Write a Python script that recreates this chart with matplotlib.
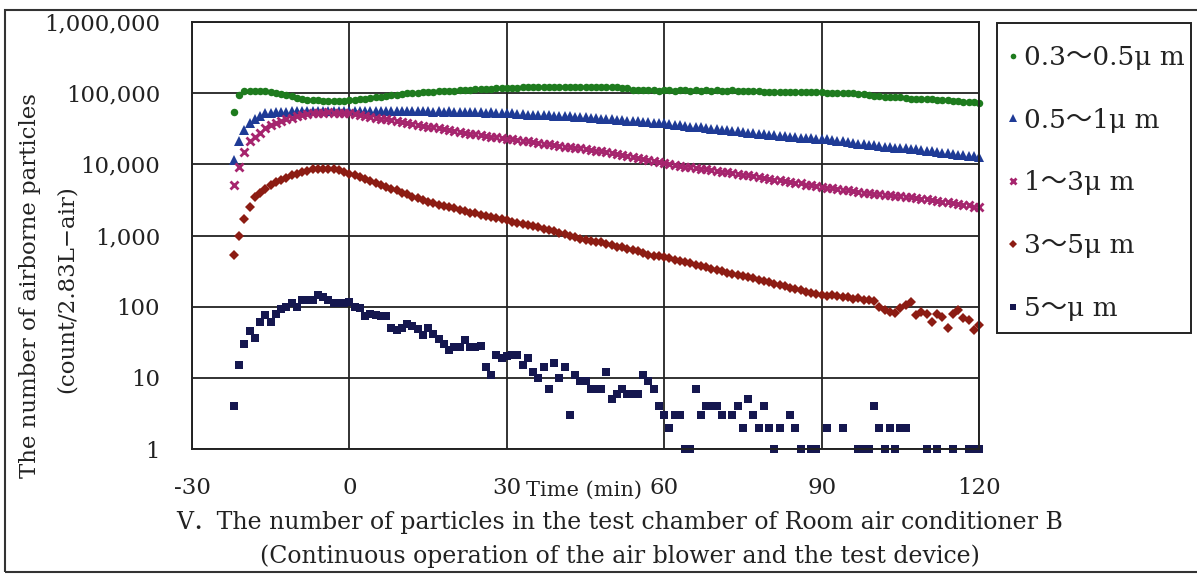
import numpy as np
import matplotlib
matplotlib.use("Agg")
import matplotlib.pyplot as plt
from matplotlib.patches import Rectangle
from matplotlib.ticker import FixedLocator, FixedFormatter

nan = np.nan
time_min = list(range(-22, 121))

pm_03_05 = [
    54000, 94000, 106000, 108000, 109000, 108000, 107000, 105000, 102000, 98000,
    94000, 90000, 86000, 83000, 81000, 80000, 79000, 78000, 77000, 77000,
    77000, 78000, 79000, 80000, 82000, 84000, 85000, 87000, 88000, 91000,
    93000, 95000, 97000, 99000, 100000, 102000, 103000, 104000, 105000, 106000,
    107000, 108000, 109000, 110000, 111000, 112000, 113000, 114000, 115000, 116000,
    117000, 118000, 118000, 119000, 120000, 121000, 122000, 122000, 123000, 123000,
    122000, 123000, 124000, 123000, 122000, 123000, 123000, 122000, 123000, 122000,
    122000, 121000, 122000, 121000, 120000, 118000, 112000, 110000, 111000, 110000,
    110000, 109000, 110000, 110000, 109000, 110000, 110000, 109000, 110000, 109000,
    110000, 109000, 110000, 109000, 109000, 110000, 109000, 108000, 109000, 108000,
    106000, 105000, 105000, 104000, 105000, 105000, 104000, 105000, 104000, 104000,
    104000, 103000, 103000, 100000, 100000, 99000, 100000, 99000, 99000, 98000,
    96000, 93000, 90000, 90000, 89000, 89000, 88000, 88000, 85000, 84000,
    84000, 83000, 83000, 82000, 80000, 80000, 79000, 78000, 77000, 76000,
    75000, 74000, 72000,
]

pm_05_1 = [
    11500, 21000, 30000, 38000, 44000, 48000, 52000, 53000, 54000, 55000,
    55000, 56000, 56000, 56000, 57000, 56000, 57000, 57000, 56000, 57000,
    56000, 57000, 56000, 57000, 56000, 57000, 56000, 57000, 57000, 56000,
    57000, 56000, 57000, 56000, 56000, 57000, 56000, 56000, 55000, 56000,
    55000, 56000, 55000, 55000, 54000, 55000, 54000, 54000, 53000, 54000,
    53000, 52000, 52000, 52000, 51000, 51000, 50000, 50000, 49500, 49000,
    49000, 48500, 48000, 48000, 47500, 47000, 47000, 46000, 45500, 45000,
    44000, 43500, 43000, 42500, 42000, 41000, 40500, 40000, 39500, 39000,
    38500, 38000, 37500, 37000, 36000, 35500, 35000, 34000, 33500, 33000,
    32000, 31500, 31000, 30500, 30000, 29500, 29000, 28600, 28000, 27500,
    27000, 26500, 26000, 25500, 25000, 24800, 24500, 24000, 23800, 23500,
    23200, 23000, 23000, 22500, 22000, 21500, 21000, 20500, 20000, 19500,
    19200, 18800, 18500, 18000, 17800, 17500, 17200, 17000, 16800, 16600,
    16200, 15900, 15600, 15300, 15000, 14600, 14300, 14000, 13700, 13400,
    13100, 12900, 12700,
]

pm_1_3 = [
    5100, 9100, 15000, 21000, 24500, 28000, 32000, 35500, 38000, 40000,
    43000, 45000, 48000, 49500, 51000, 52000, 53000, 53000, 53500, 53000,
    53000, 52500, 52000, 50500, 49000, 48000, 46500, 45500, 44000, 43000,
    41500, 40500, 39500, 38000, 37000, 36000, 35000, 34000, 33000, 32000,
    31000, 30500, 29500, 28500, 28000, 27000, 26500, 25500, 25000, 24500,
    24000, 23500, 23000, 22500, 22000, 21500, 21000, 20500, 20000, 19500,
    19000, 18600, 18200, 17800, 17400, 17000, 16700, 16300, 16000, 15600,
    15200, 14800, 14400, 14000, 13600, 13200, 12800, 12400, 12000, 11600,
    11200, 10800, 10400, 10100, 9800, 9600, 9300, 9100, 8900, 8700,
    8500, 8300, 8100, 7900, 7700, 7500, 7300, 7100, 7000, 6800,
    6600, 6500, 6300, 6100, 6000, 5800, 5700, 5500, 5400, 5200,
    5100, 4900, 4800, 4700, 4600, 4500, 4400, 4300, 4200, 4100,
    4000, 3950, 3850, 3800, 3700, 3650, 3600, 3550, 3500, 3450,
    3400, 3300, 3250, 3150, 3100, 3000, 2950, 2850, 2800, 2700,
    2650, 2550, 2500,
]

pm_3_5 = [
    530, 980, 1700, 2500, 3500, 4000, 4500, 5100, 5600, 6000,
    6500, 7000, 7400, 7800, 8100, 8500, 8600, 8500, 8600, 8500,
    8300, 7900, 7400, 7000, 6600, 6200, 5900, 5500, 5100, 4800,
    4500, 4300, 4000, 3800, 3500, 3400, 3200, 3000, 2900, 2700,
    2600, 2500, 2400, 2300, 2200, 2100, 2050, 1950, 1850, 1800,
    1750, 1700, 1650, 1550, 1500, 1450, 1400, 1350, 1300, 1250,
    1200, 1150, 1100, 1050, 1000, 950, 900, 870, 840, 820,
    800, 760, 740, 700, 680, 650, 620, 600, 560, 540,
    520, 510, 500, 480, 460, 440, 420, 410, 390, 370,
    360, 340, 330, 320, 300, 290, 280, 270, 260, 250,
    240, 230, 220, 210, 200, 195, 185, 178, 170, 160,
    155, 150, 146, 140, 148, 142, 138, 135, 130, 132,
    125, 124, 120, 100, 90, 85, 81, 95, 105, 117,
    76, 85, 80, 61, 80, 72, 50, 78, 90, 70,
    65, 47, 56,
]

pm_5_up = [
    4, 15, 30, 45, 36, 60, 76, 60, 79, 92,
    100, 111, 100, 126, 126, 126, 145, 135, 126, 111,
    111, 111, 117, 100, 95, 74, 80, 76, 74, 74,
    50, 47, 50, 58, 54, 48, 40, 50, 41, 35,
    30, 25, 27, 27, 34, 27, 27, 28, 14, 11,
    21, 19, 20, 21, 21, 15, 19, 12, 10, 14,
    7, 16, 10, 14, 3, 11, 9, 9, 7, 7,
    7, 12, 5, 6, 7, 6, 6, 6, 11, 9,
    7, 4, 3, 2, 3, 3, 1, 1, 7, 3,
    4, 4, 4, 3, nan, 3, 4, 2, 5, 3,
    2, 4, 2, 1, 2, nan, 3, 2, 1, nan,
    1, 1, nan, 2, nan, nan, 2, nan, nan, 1,
    1, 1, 4, 2, 1, 2, 1, 2, 2, nan,
    nan, nan, 1, nan, 1, nan, nan, 1, nan, nan,
    1, 1, 1,
]

series_labels = ["0.3\uff5e0.5\u03bc m", "0.5\uff5e1\u03bc m", "1\uff5e3\u03bc m",
                 "3\uff5e5\u03bc m", "5\uff5e\u03bc m"]
x_ticks = [-30, 0, 30, 60, 90, 120]
y_ticks = [1, 10, 100, 1000, 10000, 100000, 1000000]
y_ticklabels = ["1", "10", "100", "1,000", "10,000", "100,000", "1,000,000"]

FONT = ["DejaVu Serif", "Noto Sans CJK JP"]
plt.rcParams["font.family"] = FONT

W, H = 1197, 576
fig = plt.figure(figsize=(W / 100, H / 100), dpi=100)
ax = fig.add_axes([192 / W, 1 - 449 / H, (979 - 192) / W, (449 - 22) / H])

styles = [
    dict(marker="o", color="#1E7B1E", ms=5.4, mew=0),
    dict(marker="^", color="#1F3B96", ms=6.8, mew=0),
    dict(marker="x", color="#A6256E", ms=6.0, mew=2.0),
    dict(marker="D", color="#8C1C13", ms=5.4, mew=0),
    dict(marker="s", color="#15174F", ms=5.4, mew=0),
]
data = [pm_03_05, pm_05_1, pm_1_3, pm_3_5, pm_5_up]
handles = []
for vals, lab, st in zip(data, series_labels, styles):
    h, = ax.plot(time_min, vals, linestyle="none", label=lab, clip_on=False,
                 marker=st["marker"], color=st["color"], markersize=st["ms"],
                 markeredgewidth=st["mew"])
    handles.append(h)

ax.set_yscale("log")
ax.set_xlim(-30, 120)
ax.set_ylim(1, 1e6)
ax.xaxis.set_major_locator(FixedLocator(x_ticks))
ax.yaxis.set_major_locator(FixedLocator(y_ticks))
ax.yaxis.set_major_formatter(FixedFormatter(y_ticklabels))
ax.yaxis.set_minor_locator(FixedLocator([]))
ax.set_xticklabels([str(v) for v in x_ticks])
ax.tick_params(axis="both", length=0, labelsize=16.5, colors="#222222")
ax.tick_params(axis="y", pad=23)
ax.tick_params(axis="x", pad=20)
ax.grid(True, color="#222222", linewidth=1.3)
ax.set_axisbelow(True)
for s in ax.spines.values():
    s.set_color("#222222")
    s.set_linewidth(1.4)

# legend entries (frame drawn separately)
leg = fig.legend(handles=handles, loc="upper left",
                 bbox_to_anchor=(1008 / W, 1 - 45 / H),
                 borderaxespad=0, borderpad=0, frameon=False,
                 fontsize=19, labelspacing=1.43, handlelength=0.35,
                 handletextpad=0.25, markerscale=0.75)
for t in leg.get_texts():
    t.set_color("#222222")
fig.add_artist(Rectangle((997 / W, 1 - 333 / H), (1191 - 997) / W, (333 - 23) / H,
                         transform=fig.transFigure, fill=False,
                         edgecolor="#222222", linewidth=1.4))

fig.text(30 / W, 1 - 286 / H, "The number of airborne particles", rotation=90,
         ha="center", va="center", fontsize=16.5, color="#222222")
fig.text(67 / W, 1 - 289 / H, "(count/2.83L\u2212air)", rotation=90,
         ha="center", va="center", fontsize=16.5, color="#222222")
fig.text(584 / W, 1 - 490 / H, "Time (min)", ha="center", va="center",
         fontsize=15, color="#222222")
fig.text(620 / W, 1 - 522 / H,
         "V\uff0eThe number of particles in the test chamber of Room air conditioner B",
         ha="center", va="center", fontsize=17, color="#222222")
fig.text(620 / W, 1 - 556 / H,
         "(Continuous operation of the air blower and the test device)",
         ha="center", va="center", fontsize=17, color="#222222")

fig.add_artist(Rectangle((5 / W, 1 - 572 / H), 1.2, (572 - 10) / H,
                         transform=fig.transFigure, fill=False,
                         edgecolor="#333333", linewidth=1.5))

fig.savefig("out.png", dpi=100)
